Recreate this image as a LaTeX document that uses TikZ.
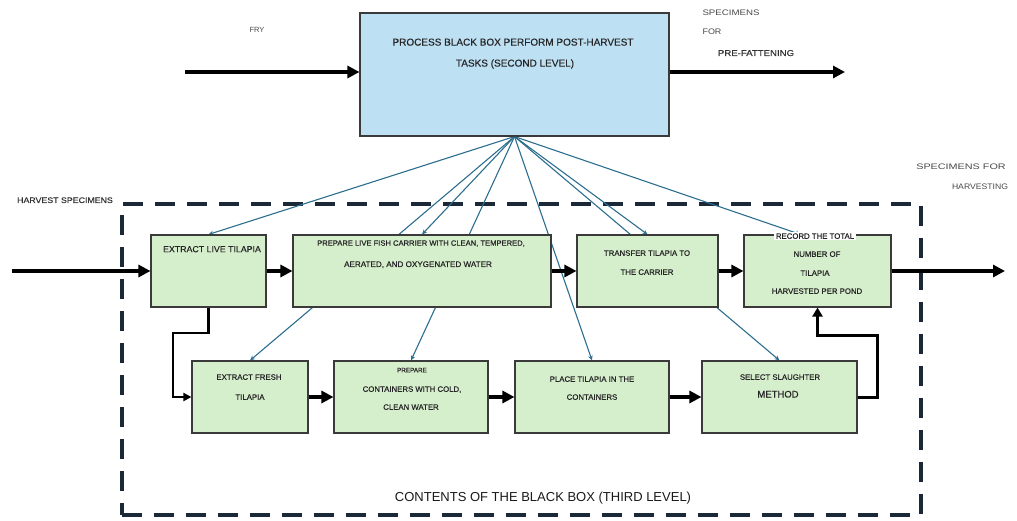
\documentclass[tikz,border=0pt]{standalone}
\usepackage{fontspec}
\usepackage{graphicx}
\setmainfont{Liberation Sans}
\usetikzlibrary{arrows.meta,backgrounds}

\definecolor{skyfill}{HTML}{BEE0F3}
\definecolor{leaf}{HTML}{D5EECC}
\definecolor{edgegray}{HTML}{3A3A3A}
\definecolor{fanblue}{HTML}{2C6E8F}
\definecolor{navy}{HTML}{1B2838}
\definecolor{labelgray}{HTML}{4A4A4A}

% horizontally stretched text
\newcommand\widetext[2]{\scalebox{#1}[1]{#2}}
% font size plus a slightly heavier stroke
\newcommand\fs[1]{\fontsize{#1}{#1}\selectfont}
\newcommand\fsb[1]{\fontsize{#1}{#1}\selectfont\addfontfeature{FakeBold=0.35}}

\begin{document}
\begin{tikzpicture}[x=1pt,y=-1pt,
  stage/.style={draw=edgegray, line width=1.1pt, fill=leaf, inner sep=0pt, minimum height=72pt},
  topbox/.style={draw=edgegray, line width=1.1pt, fill=skyfill, inner sep=0pt},
  frame/.style={draw=navy, line width=4.5pt, dash pattern=on 20pt off 12pt, inner sep=0pt},
  txt/.style={anchor=base, inner sep=0pt, text=black!85, font=\fsb{7.8}},
  side/.style={anchor=base, inner sep=0pt, text=labelgray, font=\fs{8}},
  flow/.style={line width=3.6pt, -{Triangle[length=12pt,width=12pt]}},
  elbow/.style={line width=2.6pt, -{Triangle[length=8pt,width=8pt]}},
  fan/.style={draw=fanblue, line width=1.1pt, -{Stealth[length=5pt,width=4.5pt]}}
]
% canvas
\useasboundingbox (0,0) rectangle (1017,521);

% second-level process box
\node[topbox, minimum width=309pt, minimum height=123pt] (top) at (514.5,74.5) {};
\node[txt, font=\fsb{10}] (topl1) at (513,45.6) {PROCESS BLACK BOX PERFORM POST-HARVEST};
\node[txt, font=\fsb{10}] (topl2) at (515,66.6) {TASKS (SECOND LEVEL)};

% first row of tasks
\node[stage, minimum width=115pt] (b1) at (208.5,271) {};
\node[stage, minimum width=258pt] (b2) at (422,271) {};
\node[stage, minimum width=141pt] (b3) at (647.5,271) {};
\node[stage, minimum width=147pt] (b4) at (817.5,271) {};
% second row of tasks
\node[stage, minimum width=116pt] (b5) at (250,397) {};
\node[stage, minimum width=154pt] (b6) at (411,397) {};
\node[stage, minimum width=154pt] (b7) at (592,397) {};
\node[stage, minimum width=155pt] (b8) at (779.5,397) {};

\begin{scope}[on background layer]
  % dashed frame of the third level
  \node[frame, minimum width=799pt, minimum height=311pt] (frame) at (521.5,359.5) {};
  % fan of links from the process box to every task
  \foreach \t in {b1,b2,b3,b5,b6,b7,b8}{
    \draw[fan] (top.south) -- (\t.north);
  }
  \draw[fan] (top.south) -- ([xshift=-17pt]b4.north);
\end{scope}

% task texts
\node[txt, font=\fsb{8.8}] (t1) at (212,252.2) {EXTRACT LIVE TILAPIA};
\node[txt, font=\fsb{7.6}] (t2a) at (421,245.7) {PREPARE LIVE FISH CARRIER WITH CLEAN, TEMPERED,};
\node[txt, font=\fsb{8.1}] (t2b) at (418,267) {AERATED, AND OXYGENATED WATER};
\node[txt] (t3a) at (647,255.8) {TRANSFER TILAPIA TO};
\node[txt] (t3b) at (647,274.8) {THE CARRIER};
\node[txt, fill=white, inner xsep=2pt, inner ysep=1pt] (t4a) at (815,238.8) {RECORD THE TOTAL};
\node[txt] (t4b) at (817,256.8) {NUMBER OF};
\node[txt] (t4c) at (815,275.8) {TILAPIA};
\node[txt] (t4d) at (817,293.8) {HARVESTED PER POND};
\node[txt] (t5a) at (249,379.8) {EXTRACT FRESH};
\node[txt] (t5b) at (250,399.8) {TILAPIA};
\node[txt, font=\fsb{6.3}] (t6a) at (412,372.3) {PREPARE};
\node[txt] (t6b) at (412,391.8) {CONTAINERS WITH COLD,};
\node[txt] (t6c) at (411,409.8) {CLEAN WATER};
\node[txt] (t7a) at (592,381.8) {PLACE TILAPIA IN THE};
\node[txt] (t7b) at (592,399.8) {CONTAINERS};
\node[txt] (t8a) at (780,379.8) {SELECT SLAUGHTER};
\node[txt, font=\fsb{9.5}] (t8b) at (778,397.5) {METHOD};

% outside labels
\node[side, font=\fs{7.5}] (fry) at (257,32.7) {FRY};
\node[side] (spec1) at (731,15.9) {\widetext{1.21}{SPECIMENS}};
\node[side] (spec2) at (712,34.9) {\widetext{1.12}{FOR}};
\node[side, text=black!80, font=\fsb{8.5}] (spec3) at (756,56) {\widetext{1.13}{PRE-FATTENING}};
\node[side] (harv1) at (961,170) {\widetext{1.35}{SPECIMENS FOR}};
\node[side] (harv2) at (980,190) {\widetext{1.08}{HARVESTING}};
\node[side, text=black!80, font=\fsb{8}] (harvin) at (65,203) {\widetext{1.1}{HARVEST SPECIMENS}};
\node[txt, text=black!90, font=\fs{13}] (caption) at (543,501.7) {CONTENTS OF THE BLACK BOX (THIRD LEVEL)};

% free ends of the main flows
\coordinate (fryin) at (185,72);
\coordinate (preout) at (845,72);
\coordinate (harvestin) at (12,271);
\coordinate (harvestout) at (1005,271);
\coordinate (k1) at (173,333);
\coordinate (k2) at (877,335);

% second-level flows
\draw[flow] (fryin) -- (fryin -| top.west);
\draw[flow] (preout -| top.east) -- (preout);

% third-level flows
\draw[flow] (harvestin) -- (b1.west);
\draw[flow] (b1.east) -- (b2.west);
\draw[flow] (b2.east) -- (b3.west);
\draw[flow] (b3.east) -- (b4.west);
\draw[flow] (b4.east) -- (harvestout);
\draw[flow] (b5.east) -- (b6.west);
\draw[flow] (b6.east) -- (b7.west);
\draw[flow] (b7.east) -- (b8.west);
\draw[elbow] (b1.south) |- (k1) |- (b5.west);
\draw[elbow, line width=3pt, -{Triangle[length=9pt,width=10pt]}] (b8.east) -| (k2) -| (b4.south);
\end{tikzpicture}
\end{document}
